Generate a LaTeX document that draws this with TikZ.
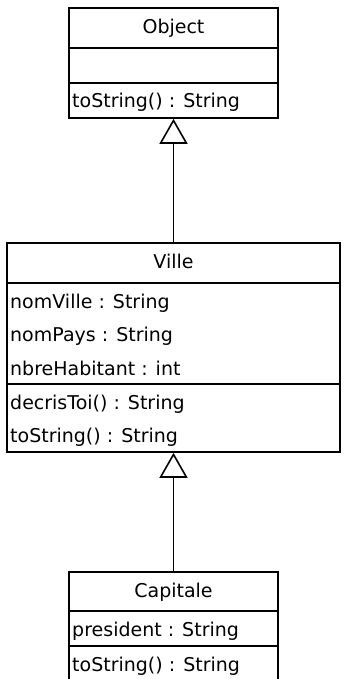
\documentclass[tikz,border=0pt]{standalone}
\usepackage{fontspec}
\setmainfont{DejaVu Sans}
\usetikzlibrary{arrows.meta}

\tikzset{
  classbox/.style={draw, line width=1.6pt, inner sep=0pt, minimum width=209pt},
  classname/.style={inner sep=0pt, text height=13pt, text depth=4pt, font=\fontsize{19}{21}\selectfont},
  member/.style={anchor=west, inner sep=0pt, text height=13pt, text depth=4pt, font=\fontsize{19}{21}\selectfont},
  sep/.style={line width=1.6pt},
  extends/.style={line width=1.6pt, -{Triangle[open, length=25pt, width=28pt]}},
}

\begin{document}
\begin{tikzpicture}[x=1pt, y=-1pt]
  \useasboundingbox (0,0) rectangle (346,679);

  % Object class
  \node[classbox, minimum height=110pt] (object) at (173.5,63) {};
  \node[classname] (objectname) at (173.5,29) {Object};
  \draw[sep] (69,48) -- (278,48);
  \draw[sep] (69,83) -- (278,83);
  \node[member] (objectop) at (72,103) {toString() : String};

  % Ville class
  \node[classbox, minimum width=333pt, minimum height=209pt] (ville) at (173.5,347.5) {};
  \node[classname] (villename) at (173.5,264) {Ville};
  \draw[sep] (7,283) -- (340,283);
  \draw[sep] (7,384) -- (340,384);
  \foreach \y/\txt in {304/nomVille : String, 337/nomPays : String, 371/nbreHabitant : int,
                       405/decrisToi() : String, 438/toString() : String} {
      \node[member] (ville\y) at (10,\y) {\txt};
  }

  % Capitale class (cut off at the bottom)
  \node[classbox, minimum height=112pt] (capitale) at (173.5,628) {};
  \node[classname] (capitalename) at (173.5,593) {Capitale};
  \draw[sep] (69,611) -- (278,611);
  \draw[sep] (69,646) -- (278,646);
  \node[member] (capitaleattr) at (72,632) {president : String};
  \node[member] (capitaleop) at (72,667) {toString() : String};

  % Inheritance
  \draw[extends] (ville.north) -- (object.south);
  \draw[extends] (capitale.north) -- (ville.south);
\end{tikzpicture}
\end{document}
